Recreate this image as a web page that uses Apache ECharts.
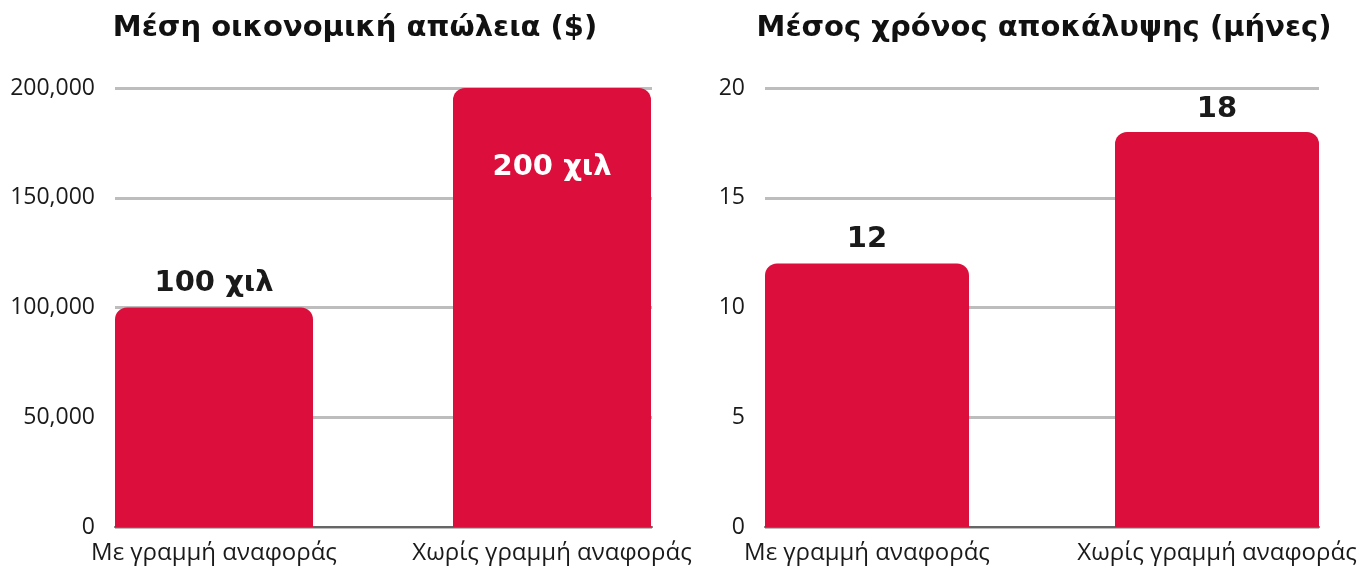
<!DOCTYPE html>
<html>
<head>
<meta charset="utf-8">
<script src="https://cdn.jsdelivr.net/npm/echarts@6/dist/echarts.min.js"></script>
<style>
  html, body { margin: 0; padding: 0; background: #fff; }
  #main { width: 1369px; height: 568px; }
</style>
</head>
<body>
<div id="main"></div>
<script>
var categories = ['Με γραμμή αναφοράς', 'Χωρίς γραμμή αναφοράς'];
var lossValues = [100000, 200000];
var lossLabels = ['100 χιλ', '200 χιλ'];
var monthsValues = [12, 18];
var monthsLabels = ['12', '18'];
var titles = ['Μέση οικονομική απώλεια ($)', 'Μέσος χρόνος αποκάλυψης (μήνες)'];

var RED = '#dc0e3b';
var TXT = '#1a1a1a';
var titleFont = '"DejaVu Sans", sans-serif';
var axisFont = '"Open Sans", sans-serif';

var myChart = echarts.init(document.getElementById('main'));

function yAxisFor(gridIndex, max, interval, show) {
  return {
    type: 'value', gridIndex: gridIndex, min: 0, max: max, interval: interval,
    show: show,
    axisLine: { show: false }, axisTick: { show: false },
    splitLine: { show: show, lineStyle: { color: '#bdbdbd', width: 3 } },
    axisLabel: {
      show: show, margin: 20, color: TXT, fontSize: 23, fontFamily: axisFont,
      formatter: function (v) { return v.toLocaleString('en-US'); }
    }
  };
}

// gridlines + baseline
function xBase(gridIndex) {
  return {
    type: 'category', gridIndex: gridIndex, data: categories,
    axisLine: { lineStyle: { color: '#666', width: 2 } },
    axisTick: { show: false }, axisLabel: { show: false }
  };
}

// bars sit on the ends of this axis (bar centre to bar centre)
function xBars(gridIndex) {
  return {
    type: 'category', gridIndex: gridIndex, data: categories, boundaryGap: false,
    axisLine: { show: false }, axisTick: { show: false },
    axisLabel: {
      interval: 0, showMinLabel: true, showMaxLabel: true, hideOverlap: false,
      margin: 14, color: TXT, fontSize: 24, fontFamily: axisFont
    }
  };
}

function barLabel(texts, positions, distances, colors) {
  return function (v, i) {
    return {
      value: v,
      label: {
        show: true, position: positions[i], distance: distances[i],
        color: colors[i], fontSize: 29, fontWeight: 'bold', fontFamily: titleFont,
        formatter: texts[i]
      }
    };
  };
}

var option = {
  animation: false,
  title: [
    { text: titles[0], left: 350, top: 9, textAlign: 'center',
      textStyle: { fontSize: 29, fontWeight: 'bold', color: '#111', fontFamily: titleFont } },
    { text: titles[1], left: 1039, top: 9, textAlign: 'center',
      textStyle: { fontSize: 29, fontWeight: 'bold', color: '#111', fontFamily: titleFont } }
  ],
  grid: [
    { left: 115, width: 537, top: 88, height: 439 },
    { left: 214, width: 338, top: 88, height: 439 },
    { left: 765, width: 554, top: 88, height: 439 },
    { left: 867, width: 350, top: 88, height: 439 }
  ],
  xAxis: [xBase(0), xBars(1), xBase(2), xBars(3)],
  yAxis: [
    yAxisFor(0, 200000, 50000, true),
    yAxisFor(1, 200000, 50000, false),
    yAxisFor(2, 20, 5, true),
    yAxisFor(3, 20, 5, false)
  ],
  series: [
    {
      type: 'bar', xAxisIndex: 1, yAxisIndex: 1, barWidth: 198, clip: false,
      itemStyle: { color: RED, borderRadius: [12, 12, 0, 0] },
      data: lossValues.map(barLabel(lossLabels, ['top', 'insideTop'], [10, 65], [TXT, '#fff']))
    },
    {
      type: 'bar', xAxisIndex: 3, yAxisIndex: 3, barWidth: 204, clip: false,
      itemStyle: { color: RED, borderRadius: [12, 12, 0, 0] },
      data: monthsValues.map(barLabel(monthsLabels, ['top', 'top'], [10, 8], [TXT, TXT]))
    }
  ]
};
myChart.setOption(option);
</script>
</body>
</html>
